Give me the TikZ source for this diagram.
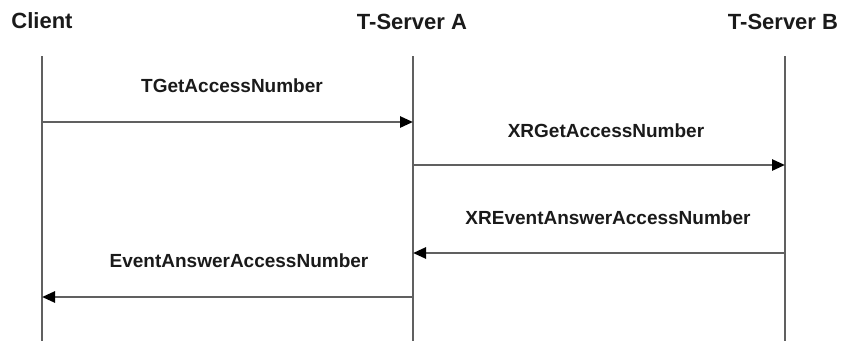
\documentclass[tikz,border=0pt]{standalone}
\usepackage{fontspec}
\setmainfont{Liberation Sans}
\usetikzlibrary{arrows.meta}
\definecolor{inkgray}{HTML}{1A1A1A}
\definecolor{linegray}{HTML}{606060}
\tikzset{
  head/.style={font=\fontsize{22}{24}\selectfont\bfseries, text=inkgray, anchor=base, inner sep=0pt},
  msg/.style={font=\fontsize{19}{21}\selectfont\bfseries, text=inkgray, anchor=base, inner sep=0pt},
  lifeline/.style={draw=linegray, line width=2.6pt},
  call/.style={draw=linegray, line width=2.6pt, -{Triangle[length=13pt,width=11pt,color=black]}}
}
\begin{document}
\begin{tikzpicture}[x=1pt, y=-1pt]
    \useasboundingbox (0,0) rectangle (846,341);

    % Parties
    \node[head] (client) at (42,28) {Client};
    \node[head] (srvA) at (412,29) {T-Server A};
    \node[head] (srvB) at (783,29) {T-Server B};

    % Lifelines
    \coordinate (cTop) at (42,56);  \coordinate (cBot) at (42,341);
    \coordinate (aTop) at (413,56); \coordinate (aBot) at (413,341);
    \coordinate (bTop) at (785,56); \coordinate (bBot) at (785,341);
    \draw[lifeline] (cTop) -- (cBot);
    \draw[lifeline] (aTop) -- (aBot);
    \draw[lifeline] (bTop) -- (bBot);

    % Message end points
    \coordinate (c1) at (42,122);  \coordinate (a1) at (413,122);
    \coordinate (a2) at (413,165); \coordinate (b2) at (785,165);
    \coordinate (b3) at (785,253); \coordinate (a3) at (413,253);
    \coordinate (a4) at (413,297); \coordinate (c4) at (42,297);

    % Messages
    \draw[call] (c1) -- (a1);
    \draw[call] (a2) -- (b2);
    \draw[call] (b3) -- (a3);
    \draw[call] (a4) -- (c4);

    % Labels
    \node[msg] (m1) at (232,92) {TGetAccessNumber};
    \node[msg] (m2) at (606,137) {XRGetAccessNumber};
    \node[msg] (m3) at (608,224) {XREventAnswerAccessNumber};
    \node[msg] (m4) at (239,267) {EventAnswerAccessNumber};
\end{tikzpicture}
\end{document}
